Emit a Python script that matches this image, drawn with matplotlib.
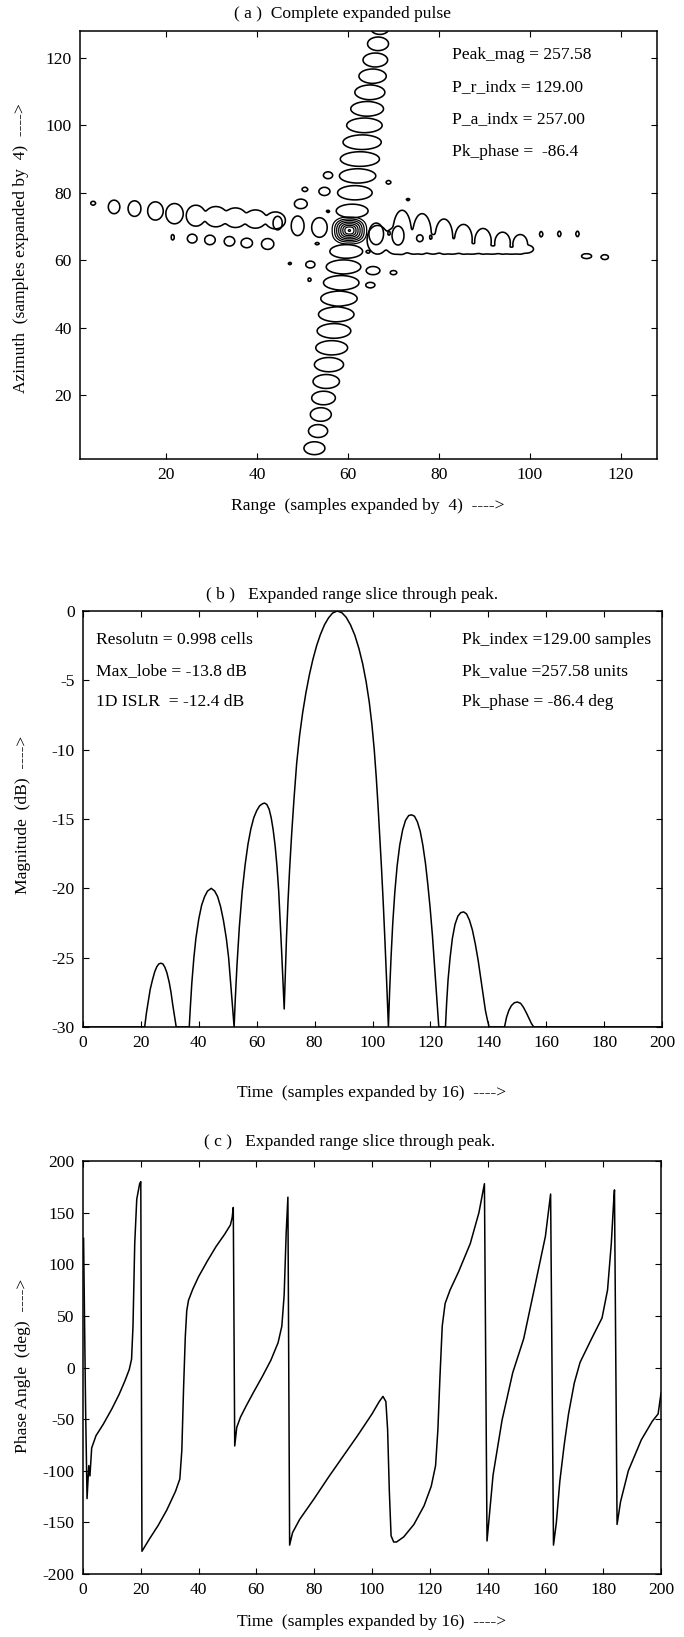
import numpy as np
import matplotlib
matplotlib.use("Agg")
import matplotlib.pyplot as plt

plt.rcParams['font.family'] = ['Liberation Serif', 'DejaVu Serif']
plt.rcParams['axes.unicode_minus'] = False
FS = 12.6

# ---------------- panel (a): lobes of the 2D pulse (x, y, half width, half height)
main_x, main_y = 60.3, 68.8
main_rings = [0.25, 1.0, 1.45, 1.9, 2.35, 2.8, 3.25, 3.8]

vert_x = [67.0, 66.6, 66.0, 65.4, 64.8, 64.2, 63.6, 63.1, 62.6, 62.1, 61.5, 60.9,
          59.6, 59.0, 58.5, 58.0, 57.4, 56.9, 56.4, 55.8, 55.2, 54.6, 54.0, 53.4, 52.6]
vert_y = [129.0, 124.2, 119.4, 114.6, 109.8, 104.9, 100.0, 95.0, 90.0, 85.0, 80.0, 74.6,
          62.6, 58.0, 53.3, 48.6, 43.9, 39.0, 34.0, 29.0, 24.0, 19.1, 14.2, 9.3, 4.2]
vert_a = [2.1, 2.3, 2.7, 3.0, 3.3, 3.6, 3.9, 4.2, 4.3, 4.0, 3.8, 3.5,
          3.6, 3.8, 3.9, 4.0, 3.9, 3.7, 3.5, 3.2, 2.9, 2.6, 2.3, 2.1, 2.3]
vert_b = [2.0, 2.0, 2.05, 2.1, 2.15, 2.15, 2.15, 2.15, 2.15, 2.1, 2.1, 2.0,
          2.0, 2.05, 2.1, 2.15, 2.15, 2.15, 2.1, 2.1, 2.05, 2.0, 2.0, 1.9, 1.9]

left_x = [3.9, 8.5, 13.0, 17.6, 21.8, 26.5, 30.9, 35.2, 39.6, 44.0,
          21.4, 25.7, 29.6, 33.9, 37.7, 42.3]
left_y = [76.9, 75.8, 75.3, 74.6, 73.8, 73.2, 72.9, 72.6, 72.2, 71.8,
          66.8, 66.4, 66.0, 65.6, 65.1, 64.8]
left_a = [0.5, 1.25, 1.4, 1.7, 1.9, 2.1, 2.5, 2.5, 2.4, 2.2,
          0.3, 1.05, 1.15, 1.15, 1.25, 1.35]
left_b = [0.55, 2.0, 2.3, 2.7, 3.0, 3.1, 3.0, 2.9, 2.7, 2.5,
          0.8, 1.3, 1.4, 1.4, 1.4, 1.6]

band_x = [66.5, 70.3, 74.4, 78.7, 83.0, 87.3, 91.7, 96.0, 99.2,
          71.9, 76.3, 81.1, 85.4, 89.7, 94.0, 97.9]
band_y = [66.05, 65.65, 65.15, 64.65, 63.95, 63.3, 63.0, 62.8, 63.3,
          68.3, 67.8, 67.0, 66.2, 65.6, 65.05, 64.7]
band_a = [2.3, 2.3, 2.3, 2.3, 2.3, 2.3, 2.3, 2.3, 1.6,
          2.0, 2.0, 1.9, 1.9, 1.8, 1.7, 1.6]
band_b = [4.25, 3.85, 3.35, 2.85, 2.15, 1.5, 1.2, 1.0, 1.2,
          6.5, 6.0, 5.2, 4.4, 3.8, 3.25, 2.9]

inner_x = [66.2, 71.0, 75.8, 78.2, 69.0, 53.7, 48.9, 44.5]
inner_y = [67.8, 67.3, 66.5, 66.8, 68.0, 69.7, 70.2, 71.0]
inner_a = [1.6, 1.3, 0.7, 0.2, 0.2, 1.7, 1.4, 1.0]
inner_b = [3.2, 2.8, 1.0, 0.6, 0.6, 2.9, 2.9, 2.0]

spot_x = [50.5, 55.6, 54.8, 49.6, 55.6, 53.2, 47.2, 51.7, 51.5, 64.4, 65.5, 64.9,
          70.0, 68.9, 73.2, 102.5, 106.5, 110.5, 112.5, 116.5]
spot_y = [81.0, 85.2, 80.4, 76.7, 74.5, 64.9, 59.0, 58.7, 54.2, 62.5, 56.9, 52.6,
          56.3, 83.1, 78.0, 67.7, 67.8, 67.8, 61.2, 60.9]
spot_a = [0.6, 1.0, 1.2, 1.4, 0.3, 0.4, 0.3, 1.0, 0.3, 0.4, 1.5, 1.0,
          0.7, 0.5, 0.3, 0.3, 0.3, 0.3, 1.1, 0.8]
spot_b = [0.6, 1.0, 1.2, 1.4, 0.3, 0.3, 0.3, 1.0, 0.5, 0.4, 1.2, 0.8,
          0.6, 0.5, 0.3, 0.8, 0.8, 0.8, 0.7, 0.7]

# ---------------- panel (b): range slice magnitude (dB)
mag_t = [0, 21.3, 21.9, 22.5, 23.2, 24.0, 24.8, 25.5, 26.2, 26.9, 27.6, 28.3, 29.0,
         29.8, 30.4, 31.0, 31.6, 32.2,
         36.7, 37.1, 37.6, 38.3, 39.0, 40.0, 41.0, 42.0, 43.0, 44.3, 45.5, 46.5, 47.5,
         48.5, 49.5, 50.3, 51.0, 51.6, 52.2,
         52.6, 53.2, 54.0, 55.0, 56.0, 57.0, 58.0, 59.0, 60.0, 61.0, 62.0, 62.7, 63.5,
         64.3, 65.0, 65.7, 66.4, 67.0, 67.6, 68.1, 68.6, 69.1, 69.5,
         69.9, 70.3, 70.8, 71.4, 72.1, 72.9, 73.8, 74.8, 75.9, 77.0, 78.2, 79.4, 80.7,
         82.0, 83.4, 84.8, 86.2, 87.8, 89.4, 90.9, 92.4, 93.9, 95.3, 96.6, 97.8, 98.9,
         99.8, 100.6, 101.3, 101.9, 102.5, 103.1, 103.7, 104.3, 104.9, 105.5,
         105.9, 106.4, 107.0, 107.7, 108.5, 109.4, 110.4, 111.4, 112.5, 113.5, 114.5,
         115.5, 116.5, 117.4, 118.3, 119.1, 119.9, 120.7, 121.4, 122.1, 122.9,
         125.2, 125.6, 126.1, 126.8, 127.6, 128.5, 129.5, 130.5, 131.5, 132.5, 133.5,
         134.5, 135.5, 136.5, 137.4, 138.2, 139.0, 139.7, 140.3,
         145.6, 146.3, 147.1, 148.0, 149.0, 150.1, 151.2, 152.2, 153.2, 154.1, 154.9,
         155.7, 200]
mag_db = [-30, -30, -29.0, -28.2, -27.3, -26.6, -26.0, -25.65, -25.45, -25.4, -25.45,
          -25.7, -26.1, -26.8, -27.5, -28.4, -29.2, -30,
          -30, -28.5, -26.8, -25.0, -23.6, -22.2, -21.2, -20.6, -20.2, -20.0, -20.2,
          -20.6, -21.3, -22.3, -23.6, -25.0, -26.8, -28.4, -30,
          -28.0, -25.5, -22.8, -20.2, -18.3, -16.8, -15.7, -14.9, -14.4, -14.05, -13.9,
          -13.85, -13.95, -14.3, -14.9, -15.8, -17.0, -18.4, -20.2, -22.3, -24.5,
          -26.8, -28.7,
          -26, -23.5, -21, -18.5, -16, -13.5, -11, -9, -7.3, -5.9, -4.6, -3.5, -2.5,
          -1.7, -1.0, -0.5, -0.15, 0, -0.12, -0.45, -1.0, -1.75, -2.7, -3.8, -5.1, -6.6,
          -8.2, -10, -12, -14, -16.2, -18.5, -21, -23.8, -26.8, -30,
          -27.5, -25, -22.5, -20.3, -18.4, -16.9, -15.8, -15.1, -14.75, -14.7, -14.8,
          -15.2, -15.9, -16.9, -18.2, -19.7, -21.4, -23.4, -25.5, -27.7, -30,
          -30, -28.3, -26.6, -25.0, -23.6, -22.6, -22.0, -21.75, -21.7, -21.85, -22.3,
          -23.0, -24.0, -25.2, -26.5, -27.7, -28.8, -29.5, -30,
          -30, -29.3, -28.8, -28.45, -28.25, -28.2, -28.3, -28.6, -29.0, -29.4, -29.75,
          -30, -30]

# ---------------- panel (c): range slice phase (deg)
ph_t = [0.2, 0.9, 1.4, 2.0, 2.4, 3.0, 4.5, 7.0, 10.0, 12.5, 14.5, 16.0, 16.8, 17.3, 17.9,
        18.6, 19.6, 20.0, 20.4, 23, 26, 29, 32, 33.5, 34.2, 34.8, 35.4, 35.9, 36.5, 38,
        40, 43, 46, 49, 51, 51.6, 52.0, 52.5, 53.2, 54.5, 56.5, 59, 62, 65, 67.5, 68.8,
        69.6, 70.3, 70.9, 71.5, 72.5, 75, 80, 85, 90, 95, 100, 102.5, 103.8, 104.8, 105.4,
        106.0, 106.6, 107.5, 108.5, 111, 114.5, 118, 120.5, 122, 122.8, 123.5, 124.3,
        125.3, 127, 130, 134, 137, 138.9, 139.8, 141.9, 145, 148.7, 152.5, 156, 160,
        161.8, 162.8, 163.8, 165, 166.5, 168, 170, 172, 176, 179.6, 181.5, 182.8, 183.6,
        183.9, 184.8, 186, 188.7, 193.2, 197, 199, 200]
ph_deg = [125, -40, -127, -95, -105, -78, -66, -55, -40, -26, -13, -2, 8, 40, 120,
          163, 178, 180, -178, -166, -153, -138, -120, -108, -80, -20, 30, 55, 65, 76,
          88, 103, 117, 129, 138, 145, 155, -76, -58, -48, -37, -24, -9, 7, 24, 40,
          70, 130, 165, -172, -160, -147, -127, -106, -86, -66, -45, -33, -28, -33, -60,
          -120, -163, -169, -169, -164, -152, -134, -115, -95, -60, -10, 40,
          62, 75, 93, 120, 150, 178, -168, -104, -51, -5, 28, 74, 127,
          168, -172, -150, -110, -75, -45, -15, 5, 28, 48, 75, 120, 160,
          172, -152, -130, -100, -70, -52, -45, -25]


def lobe_field(X, Y, xs, ys, aa, bb):
    z = np.zeros_like(X)
    for cx, cy, a, b in zip(xs, ys, aa, bb):
        q = ((X - cx) / a) ** 2 + ((Y - cy) / b) ** 2
        z += np.exp(-4.0 * (q - 1.0))
    return z


fig = plt.figure(figsize=(6.84, 16.37), dpi=100)
W, H = 684.0, 1637.0


def px_axes(l, t, r, b):
    return fig.add_axes([l / W, 1 - b / H, (r - l) / W, (b - t) / H])


def style(ax):
    ax.tick_params(direction='in', top=True, right=True, length=4, width=0.8,
                   labelsize=FS, pad=6)
    for s in ax.spines.values():
        s.set_linewidth(1.1)


# ---- (a)
ax1 = px_axes(80, 31, 657, 459)
gx = np.linspace(1, 128, 760)
gy = np.linspace(1, 128, 760)
X, Y = np.meshgrid(gx, gy)
for xs, ys, aa, bb in [(vert_x, vert_y, vert_a, vert_b),
                       (left_x, left_y, left_a, left_b),
                       (band_x, band_y, band_a, band_b),
                       (inner_x, inner_y, inner_a, inner_b),
                       (spot_x, spot_y, spot_a, spot_b)]:
    ax1.contour(X, Y, lobe_field(X, Y, xs, ys, aa, bb), levels=[1.0],
                colors='k', linewidths=1.15)
rmain = (np.abs(X - main_x) ** 2.6 + np.abs((Y - main_y) / 1.05) ** 2.6) ** (1 / 2.6)
ax1.contour(X, Y, rmain, levels=main_rings, colors='k', linewidths=0.9)
ax1.set_xlim(1, 128)
ax1.set_ylim(1, 128)
ax1.set_xticks([20, 40, 60, 80, 100, 120])
ax1.set_yticks([20, 40, 60, 80, 100, 120])
style(ax1)
for yy, s in zip([121, 111.4, 101.8, 92.2],
                 ["Peak_mag = 257.58", "P_r_indx = 129.00",
                  "P_a_indx = 257.00", "Pk_phase =  -86.4"]):
    ax1.text(82.8, yy, s, fontsize=FS, va='center', ha='left')
fig.text(343 / W, 1 - 14 / H, "( a )  Complete expanded pulse", ha='center',
         va='center', fontsize=FS)
fig.text(368 / W, 1 - 506 / H, "Range  (samples expanded by  4)  ---->",
         ha='center', va='center', fontsize=FS)
fig.text(21 / W, 1 - 248 / H, "Azimuth  (samples expanded by  4)  ---->",
         ha='center', va='center', rotation=90, fontsize=FS)

# ---- (b)
ax2 = px_axes(83, 611, 662, 1027)
ax2.plot(mag_t, mag_db, color='k', lw=1.1)
ax2.set_xlim(0, 200)
ax2.set_ylim(-30, 0)
ax2.set_xticks(range(0, 201, 20))
ax2.set_yticks(range(-30, 1, 5))
style(ax2)
for yy, s in zip([-2.1, -4.35, -6.55],
                 ["Resolutn = 0.998 cells", "Max_lobe = -13.8 dB",
                  "1D ISLR  = -12.4 dB"]):
    ax2.text(4.5, yy, s, fontsize=FS, va='center', ha='left')
for yy, s in zip([-2.1, -4.35, -6.55],
                 ["Pk_index =129.00 samples", "Pk_value =257.58 units",
                  "Pk_phase = -86.4 deg"]):
    ax2.text(131, yy, s, fontsize=FS, va='center', ha='left')
fig.text(352 / W, 1 - 595 / H, "( b )   Expanded range slice through peak.",
         ha='center', va='center', fontsize=FS)
fig.text(372 / W, 1 - 1093 / H, "Time  (samples expanded by 16)  ---->",
         ha='center', va='center', fontsize=FS)
fig.text(23 / W, 1 - 815 / H, "Magnitude  (dB)  ---->",
         ha='center', va='center', rotation=90, fontsize=FS)

# ---- (c)
ax3 = px_axes(83, 1161, 661, 1574)
ax3.plot(ph_t, ph_deg, color='k', lw=1.1)
ax3.set_xlim(0, 200)
ax3.set_ylim(-200, 200)
ax3.set_xticks(range(0, 201, 20))
ax3.set_yticks(range(-200, 201, 50))
style(ax3)
fig.text(350 / W, 1 - 1142 / H, "( c )   Expanded range slice through peak.",
         ha='center', va='center', fontsize=FS)
fig.text(372 / W, 1 - 1622 / H, "Time  (samples expanded by 16)  ---->",
         ha='center', va='center', fontsize=FS)
fig.text(23 / W, 1 - 1366 / H, "Phase Angle  (deg)  ---->",
         ha='center', va='center', rotation=90, fontsize=FS)

fig.savefig("out.png", dpi=100)
